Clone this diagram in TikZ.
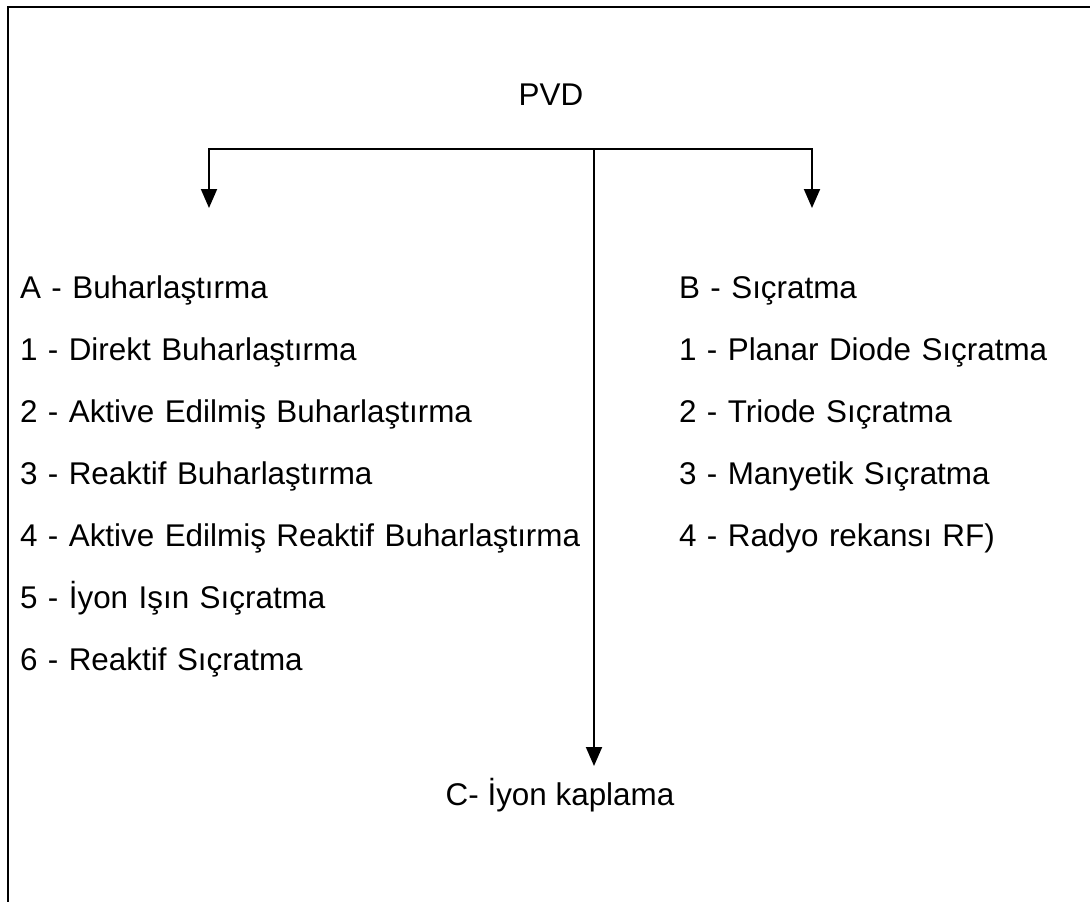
\documentclass[tikz,border=0pt]{standalone}
\usepackage{fontspec}
\setmainfont{Liberation Sans}
\usetikzlibrary{arrows.meta}
\tikzstyle{heading} = [inner sep=0pt, text height=23pt, text depth=7pt]
\tikzstyle{itemA} = [heading, text width=640pt, align=left]
\tikzstyle{itemB} = [heading, text width=400pt, align=left]
\tikzstyle{frame} = [draw, line width=2.8pt]
\tikzstyle{line} = [draw, line width=1.9pt, -{Triangle[length=19pt, width=16pt]}]
\begin{document}
\begin{tikzpicture}[x=1pt, y=-1pt, node distance=62pt,
    font=\fontsize{31.4}{38}\selectfont]
    \useasboundingbox (0,0) rectangle (1090,902);
    \path [frame] (8,902) -- (8,7) -- (1090,7);
    % Nodes
    \node [heading] (pvd) at (551,97) {PVD};
    \node [itemA] (a0) at (340,290) {A - Buharlaştırma};
    \node [itemA, below of=a0] (a1) {1 - Direkt Buharlaştırma};
    \node [itemA, below of=a1] (a2) {2 - Aktive Edilmiş Buharlaştırma};
    \node [itemA, below of=a2] (a3) {3 - Reaktif Buharlaştırma};
    \node [itemA, below of=a3] (a4) {4 - Aktive Edilmiş Reaktif Buharlaştırma};
    \node [itemA, below of=a4] (a5) {5 - İyon Işın Sıçratma};
    \node [itemA, below of=a5] (a6) {6 - Reaktif Sıçratma};
    \node [itemB] (b0) at (879,290) {B - Sıçratma};
    \node [itemB, below of=b0] (b1) {1 - Planar Diode Sıçratma};
    \node [itemB, below of=b1] (b2) {2 - Triode Sıçratma};
    \node [itemB, below of=b2] (b3) {3 - Manyetik Sıçratma};
    \node [itemB, below of=b3] (b4) {4 - Radyo rekansı RF)};
    \node [heading] (ion) at (560,797) {C- İyon kaplama};
    \coordinate (top) at (594,149);
    \coordinate (atip) at (209,208);
    \coordinate (btip) at (812,208);
    \coordinate (ctip) at (594,766);
    % Edges
    \path [line] (top) -| (atip);
    \path [line] (top) -| (btip);
    \path [line] (top) -- (ctip);
\end{tikzpicture}
\end{document}
